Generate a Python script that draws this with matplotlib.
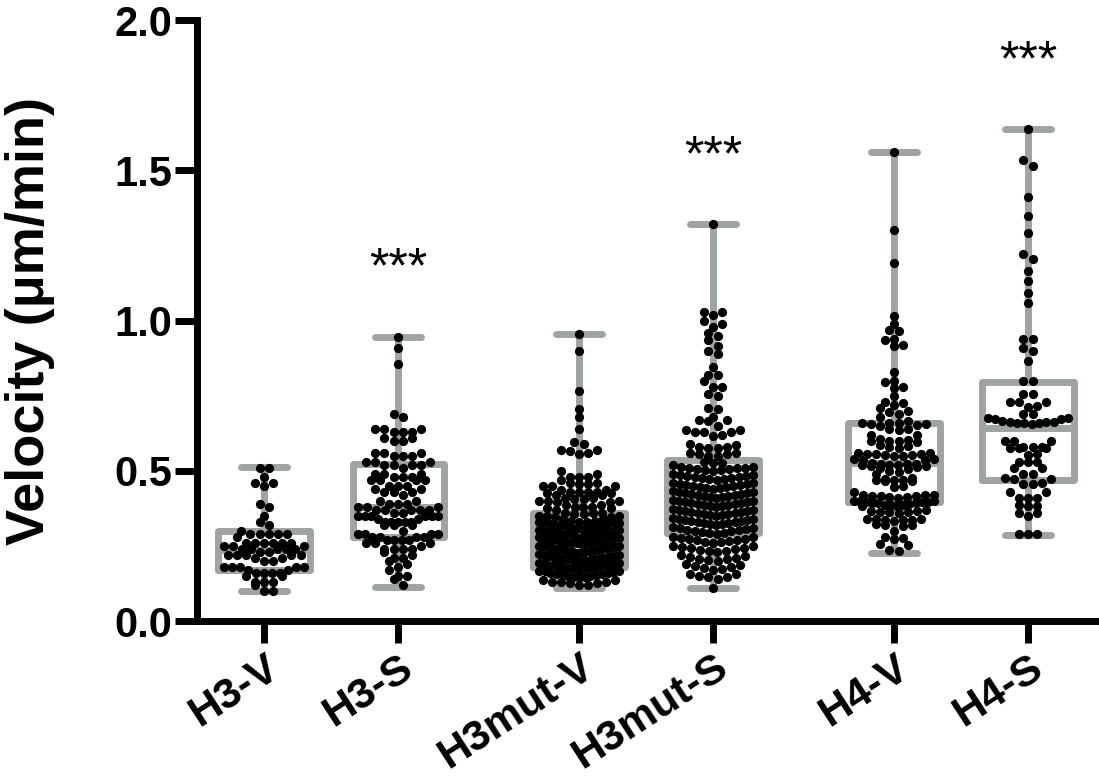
import numpy as np
import matplotlib
matplotlib.use("Agg")
import matplotlib.pyplot as plt

plt.rcParams['font.family'] = ['Liberation Sans', 'DejaVu Sans']

# groups and x positions (gap between pairs)
groups = ['H3-V', 'H3-S', 'H3mut-V', 'H3mut-S', 'H4-V', 'H4-S']
positions = [0, 1, 2.35, 3.35, 4.7, 5.7]

# box stats (min, q1, median, q3, max)
whislo = [0.100, 0.114, 0.109, 0.109, 0.226, 0.286]
q1s = [0.170, 0.280, 0.180, 0.292, 0.397, 0.469]
medians = [0.235, 0.380, 0.260, 0.400, 0.525, 0.641]
q3s = [0.300, 0.522, 0.360, 0.536, 0.658, 0.797]
whishi = [0.513, 0.946, 0.955, 1.320, 1.562, 1.636]

# which groups carry a significance mark
stars = ['', '***', '', '***', '', '***']

# individual velocities (um/min)
h3v = [0.51, 0.51, 0.48, 0.46, 0.46, 0.45, 0.39, 0.38, 0.35, 0.33, 0.32, 0.30,
       0.29, 0.29, 0.29, 0.29, 0.29, 0.28,
       0.26, 0.26, 0.26, 0.26, 0.26, 0.26, 0.25, 0.25, 0.25,
       0.24, 0.24, 0.24, 0.24, 0.24,
       0.23, 0.23, 0.22, 0.22, 0.22, 0.22, 0.22,
       0.21, 0.21, 0.20, 0.20,
       0.18, 0.18, 0.18, 0.18, 0.18, 0.17, 0.17,
       0.16, 0.16, 0.16, 0.16, 0.15, 0.15,
       0.13, 0.13, 0.13, 0.12,
       0.10, 0.10]

h3s = [0.945, 0.91, 0.855, 0.69, 0.68,
       0.64, 0.64, 0.64, 0.63, 0.63, 0.63,
       0.61, 0.61, 0.60, 0.60,
       0.56, 0.56, 0.56, 0.55, 0.55, 0.55,
       0.53, 0.53, 0.53, 0.52, 0.52, 0.52, 0.52, 0.51,
       0.49, 0.49, 0.49, 0.48, 0.48, 0.48, 0.47, 0.47, 0.47, 0.47,
       0.45, 0.45, 0.45, 0.44, 0.44, 0.43, 0.43, 0.43, 0.42,
       0.40, 0.40, 0.39, 0.39, 0.39,
       0.38, 0.38, 0.38, 0.37, 0.37, 0.37, 0.37, 0.37,
       0.36, 0.36, 0.35, 0.35, 0.35, 0.35, 0.35, 0.35, 0.34, 0.34,
       0.33, 0.33, 0.33, 0.33, 0.33, 0.32, 0.32, 0.32,
       0.30, 0.29, 0.29, 0.29, 0.29, 0.28, 0.28, 0.28, 0.28,
       0.27, 0.27, 0.27, 0.27, 0.26, 0.26, 0.26,
       0.25, 0.24, 0.24, 0.24, 0.24, 0.23,
       0.22, 0.21, 0.21, 0.20,
       0.19, 0.18, 0.17, 0.15, 0.15, 0.14, 0.12]

h3mut_v = [0.955, 0.90, 0.765, 0.705, 0.68, 0.64, 0.595, 0.59, 0.57, 0.57, 0.565, 0.56, 0.555,
           0.50, 0.49, 0.48, 0.48, 0.48, 0.47,
           0.46, 0.46, 0.455, 0.455, 0.45, 0.45, 0.45,
           0.435, 0.435, 0.43, 0.43, 0.43, 0.43, 0.425, 0.425, 0.42, 0.42,
           0.41, 0.41, 0.405, 0.405, 0.40, 0.40, 0.40, 0.395, 0.395,
           0.385, 0.385, 0.38, 0.38, 0.38, 0.375, 0.375, 0.37,
           0.36, 0.36, 0.36, 0.355, 0.355, 0.35, 0.35, 0.35, 0.345, 0.345, 0.34, 0.34,
           0.314, 0.316, 0.318, 0.318, 0.32, 0.32, 0.322, 0.323, 0.325, 0.325, 0.327, 0.328, 0.33, 0.33, 0.332, 0.334,
           0.286, 0.288, 0.29, 0.29, 0.292, 0.293, 0.295, 0.295, 0.297, 0.298, 0.30, 0.30, 0.302, 0.303, 0.305, 0.305, 0.307, 0.308,
           0.256, 0.258, 0.26, 0.26, 0.262, 0.263, 0.265, 0.265, 0.267, 0.268, 0.27, 0.27, 0.272, 0.273, 0.275, 0.275, 0.277, 0.278, 0.28, 0.28,
           0.226, 0.228, 0.23, 0.23, 0.232, 0.233, 0.235, 0.235, 0.237, 0.238, 0.24, 0.24, 0.242, 0.243, 0.245, 0.245, 0.247, 0.248, 0.25, 0.25,
           0.198, 0.20, 0.20, 0.202, 0.203, 0.205, 0.205, 0.207, 0.208, 0.21, 0.21, 0.212, 0.213, 0.215, 0.215, 0.217, 0.218, 0.22, 0.22, 0.222,
           0.172, 0.173, 0.175, 0.175, 0.177, 0.178, 0.18, 0.18, 0.182, 0.183, 0.185, 0.185, 0.187, 0.188, 0.19, 0.19, 0.192, 0.194,
           0.145, 0.145, 0.148, 0.15, 0.15, 0.152, 0.155, 0.155, 0.158, 0.16, 0.16, 0.162, 0.165, 0.165, 0.168,
           0.12, 0.12, 0.125, 0.125, 0.13, 0.13, 0.13, 0.135, 0.135]

h3mut_s = [1.32, 1.03, 1.03, 1.02, 1.0, 0.99, 0.98, 0.96, 0.95, 0.935, 0.915, 0.90, 0.89,
           0.845, 0.82, 0.82, 0.80, 0.78, 0.78, 0.755, 0.75,
           0.71, 0.705, 0.68, 0.67, 0.67, 0.665, 0.65, 0.635, 0.635, 0.63, 0.63, 0.63, 0.62, 0.615,
           0.59, 0.585, 0.58, 0.58, 0.575, 0.575, 0.56, 0.56, 0.555, 0.555, 0.55, 0.55,
           0.53, 0.525, 0.525, 0.52,
           0.50, 0.502, 0.503, 0.505, 0.506, 0.508, 0.509, 0.51, 0.512, 0.514,
           0.47, 0.472, 0.473, 0.475, 0.477, 0.478, 0.48, 0.482, 0.483, 0.485, 0.487, 0.49,
           0.44, 0.442, 0.443, 0.445, 0.447, 0.448, 0.45, 0.452, 0.453, 0.455, 0.457, 0.458, 0.46,
           0.41, 0.412, 0.413, 0.415, 0.417, 0.418, 0.42, 0.422, 0.423, 0.425, 0.427, 0.428, 0.43, 0.432,
           0.38, 0.382, 0.383, 0.385, 0.387, 0.388, 0.39, 0.392, 0.393, 0.395, 0.397, 0.398, 0.40, 0.402,
           0.35, 0.352, 0.353, 0.355, 0.357, 0.358, 0.36, 0.362, 0.363, 0.365, 0.367, 0.368, 0.37, 0.372,
           0.32, 0.322, 0.323, 0.325, 0.327, 0.328, 0.33, 0.332, 0.333, 0.335, 0.337, 0.338, 0.34, 0.342,
           0.29, 0.292, 0.294, 0.296, 0.298, 0.30, 0.302, 0.304, 0.306, 0.308, 0.31, 0.312,
           0.26, 0.262, 0.264, 0.266, 0.268, 0.27, 0.272, 0.274, 0.276, 0.278, 0.28,
           0.23, 0.232, 0.234, 0.237, 0.24, 0.242, 0.244, 0.246, 0.248, 0.25,
           0.20, 0.202, 0.205, 0.208, 0.21, 0.213, 0.216, 0.22,
           0.17, 0.173, 0.176, 0.18, 0.183, 0.186, 0.19,
           0.14, 0.145, 0.148, 0.15, 0.155, 0.158,
           0.109]

h4v = [1.56, 1.30, 1.19, 1.015, 0.99, 0.97, 0.965, 0.94, 0.935, 0.92, 0.915,
       0.83, 0.80, 0.795, 0.78, 0.775, 0.75, 0.73, 0.725, 0.72, 0.71, 0.70, 0.695, 0.69, 0.68, 0.665,
       0.66, 0.66, 0.658, 0.656, 0.655, 0.652, 0.65,
       0.64, 0.638, 0.635, 0.62, 0.618,
       0.605, 0.603, 0.60, 0.60, 0.598, 0.596,
       0.585, 0.583, 0.58, 0.575,
       0.56, 0.558, 0.557, 0.556, 0.555, 0.553, 0.552, 0.55, 0.548,
       0.54, 0.538, 0.536, 0.535,
       0.525, 0.524, 0.523, 0.522, 0.52, 0.52, 0.518, 0.517, 0.515, 0.513,
       0.51, 0.505, 0.50, 0.495, 0.49,
       0.475, 0.472, 0.47, 0.47, 0.468, 0.466, 0.465,
       0.45, 0.445, 0.43,
       0.42, 0.42, 0.418, 0.417, 0.416, 0.415, 0.414, 0.412, 0.41,
       0.40, 0.40, 0.398, 0.397, 0.396, 0.395, 0.394, 0.393, 0.392,
       0.388, 0.387, 0.386, 0.385, 0.384, 0.382,
       0.368, 0.366, 0.365, 0.364, 0.363, 0.362, 0.36,
       0.34, 0.339, 0.338, 0.337, 0.336, 0.335, 0.333,
       0.322, 0.32, 0.318, 0.316,
       0.30, 0.278, 0.275, 0.272, 0.255, 0.252, 0.237, 0.232]

h4s = [1.636, 1.534, 1.515, 1.41, 1.347, 1.29, 1.221, 1.204, 1.166, 1.13, 1.092, 1.057,
       0.94, 0.94, 0.907, 0.90, 0.864, 0.80, 0.80, 0.757, 0.755,
       0.73, 0.73, 0.728, 0.715, 0.712, 0.69, 0.688,
       0.675, 0.675, 0.673, 0.672, 0.665, 0.663, 0.663, 0.662, 0.66, 0.66, 0.658, 0.657,
       0.60, 0.60, 0.598, 0.58, 0.58, 0.578, 0.577, 0.576, 0.575,
       0.555, 0.553, 0.53, 0.53, 0.528, 0.51, 0.508, 0.49, 0.488,
       0.475, 0.474, 0.472, 0.458, 0.457, 0.455, 0.43, 0.428,
       0.41, 0.41, 0.408, 0.385, 0.384, 0.382, 0.36, 0.358, 0.35, 0.29, 0.29, 0.288]

data = [h3v, h3s, h3mut_v, h3mut_s, h4v, h4s]

GREY = '#9ea3a3'


def swarm(vals, center, row_h=0.024, sp=0.068, half_w=0.30):
    # prism-like layout: group close values into rows, lowest value in the middle
    v = np.sort(np.asarray(vals, dtype=float))
    xs, ys = [], []
    i = 0
    while i < len(v):
        j = i
        while j < len(v) and v[j] - v[i] < row_h:
            j += 1
        row = v[i:j]
        n = len(row)
        step = sp if (n - 1) * sp <= 2 * half_w else 2 * half_w / (n - 1)
        if n % 2:
            offs = [0] + [k for m in range(1, n // 2 + 1) for k in (m, -m)]
        else:
            offs = [k for m in range(n // 2) for k in (m + 0.5, -(m + 0.5))]
        for val, o in zip(row, offs):
            xs.append(center + o * step)
            ys.append(val)
        i = j
    return xs, ys


fig = plt.figure(figsize=(10.99, 7.79), dpi=100)
ax = fig.add_axes([0.1793, 0.2028, 0.819, 0.7715])

stats = []
for k in range(len(groups)):
    stats.append(dict(whislo=whislo[k], q1=q1s[k], med=medians[k], q3=q3s[k], whishi=whishi[k]))

lp = dict(color=GREY, linewidth=5, solid_capstyle='round', solid_joinstyle='round')
bp = ax.bxp(stats, positions=positions, widths=0.68, capwidths=0.34, showfliers=False,
            boxprops=lp, whiskerprops=dict(color=GREY, linewidth=5, solid_capstyle='butt'),
            capprops=lp, medianprops=lp, manage_ticks=False)

for k, vals in enumerate(data):
    xs, ys = swarm(vals, positions[k])
    ax.scatter(xs, ys, s=44, color='black', linewidths=0, zorder=4)

for k, s in enumerate(stars):
    if s:
        ax.text(positions[k], whishi[k] + 0.18, s, ha='center', va='baseline',
                fontsize=36, color='black')

ax.set_xlim(-0.5, 6.216)
ax.set_ylim(0, 2.0)
ax.set_yticks([0.0, 0.5, 1.0, 1.5, 2.0])
ax.set_yticklabels(['0.0', '0.5', '1.0', '1.5', '2.0'], fontsize=30, fontweight='bold')
ax.set_xticks(positions)
ax.set_xticklabels(groups, fontsize=31, fontweight='bold', rotation=33,
                   ha='right', rotation_mode='anchor')
ax.tick_params(axis='both', width=5, length=16, color='black')
ax.tick_params(axis='y', pad=2)
ax.tick_params(axis='x', pad=3)
for side in ['top', 'right']:
    ax.spines[side].set_visible(False)
for side in ['left', 'bottom']:
    ax.spines[side].set_linewidth(5)
ax.set_ylabel('Velocity (μm/min)', fontsize=39, fontweight='bold')
ax.yaxis.set_label_coords(-0.158, 0.5)

fig.savefig('out.png', dpi=100)
